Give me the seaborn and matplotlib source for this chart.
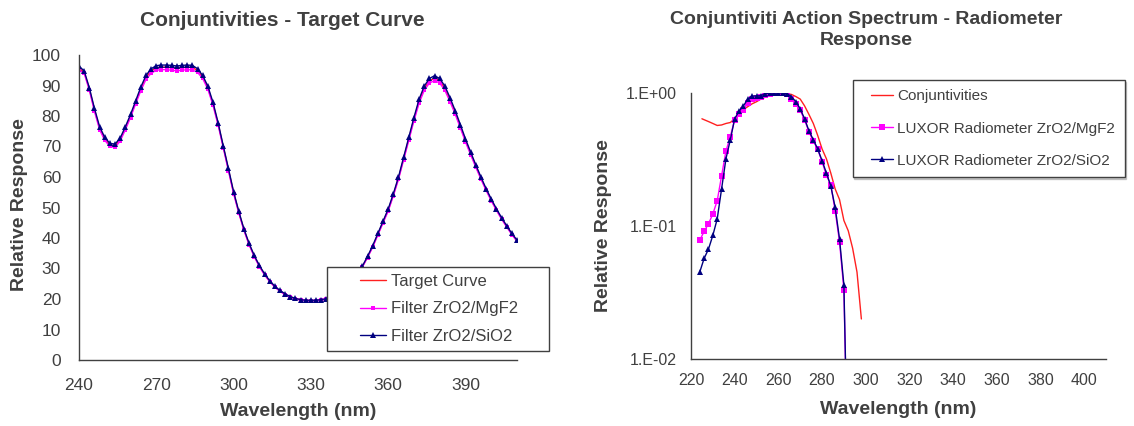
import numpy as np
import pandas as pd
import matplotlib
matplotlib.use("Agg")
import matplotlib.pyplot as plt
import seaborn as sns
from matplotlib.legend_handler import HandlerLine2D
from matplotlib.ticker import FixedLocator, FixedFormatter, NullFormatter

# ---------------- data : left chart ----------------
wl_left = list(range(240, 411, 2))
target_curve = [95.6, 94.4, 88.9, 82.0, 76.0, 72.5, 70.5, 70.2, 72.3, 76.0,
                80.0, 84.5, 88.9, 92.7, 94.8, 95.8, 96.0, 96.0, 95.8, 95.6,
                95.8, 96.0, 95.9, 94.9, 92.8, 89.3, 84.0, 77.4, 69.9, 62.4,
                54.9, 48.5, 42.8, 38.0, 34.1, 30.8, 28.1, 25.8, 24.0, 22.6,
                21.5, 20.7, 20.1, 19.7, 19.5, 19.5, 19.5, 19.7, 20.0, 20.6,
                21.5, 22.8, 24.3, 26.2, 28.3, 30.6, 33.8, 37.2, 41.2, 45.2,
                49.1, 54.1, 59.6, 66.0, 72.5, 79.0, 84.8, 89.1, 91.5, 92.4,
                91.5, 89.1, 85.3, 81.2, 76.6, 72.0, 67.7, 63.6, 59.6, 55.9,
                52.5, 49.3, 46.4, 43.8, 41.3, 39.1]
filter_mgf2 = [95.0, 94.0, 88.5, 81.5, 75.5, 72.0, 70.0, 69.7, 71.8, 75.5,
               79.5, 84.0, 88.3, 92.0, 94.0, 95.0, 95.2, 95.2, 95.0, 94.8,
               95.0, 95.2, 95.1, 94.3, 92.3, 88.8, 83.5, 77.0, 69.5, 62.0,
               54.5, 48.2, 42.5, 37.8, 33.9, 30.6, 27.9, 25.7, 23.9, 22.5,
               21.4, 20.6, 20.0, 19.6, 19.4, 19.4, 19.4, 19.6, 19.9, 20.5,
               21.4, 22.7, 24.2, 26.1, 28.2, 30.5, 33.6, 37.0, 41.0, 44.9,
               48.8, 53.8, 59.2, 65.6, 72.0, 78.4, 84.2, 88.4, 90.8, 91.6,
               90.8, 88.4, 84.7, 80.6, 76.1, 71.5, 67.3, 63.2, 59.3, 55.6,
               52.2, 49.1, 46.2, 43.6, 41.1, 38.9]
filter_sio2 = [96.3, 94.8, 89.3, 82.5, 76.5, 73.0, 71.0, 70.8, 72.8, 76.5,
               80.5, 85.0, 89.5, 93.3, 95.5, 96.5, 96.7, 96.7, 96.6, 96.4,
               96.6, 96.7, 96.6, 95.5, 93.3, 89.8, 84.5, 77.8, 70.2, 62.8,
               55.2, 48.8, 43.0, 38.3, 34.3, 31.0, 28.3, 26.0, 24.2, 22.8,
               21.7, 20.8, 20.2, 19.8, 19.6, 19.6, 19.6, 19.8, 20.1, 20.7,
               21.6, 22.9, 24.5, 26.4, 28.5, 30.8, 34.0, 37.5, 41.5, 45.5,
               49.5, 54.5, 60.0, 66.5, 73.0, 79.5, 85.5, 89.8, 92.3, 93.2,
               92.3, 89.8, 86.0, 81.8, 77.2, 72.5, 68.2, 64.0, 60.0, 56.2,
               52.8, 49.6, 46.7, 44.0, 41.5, 39.3]
left_xticks = [240, 270, 300, 330, 360, 390]
left_yticks = [0, 10, 20, 30, 40, 50, 60, 70, 80, 90, 100]
left_labels = ["Target Curve", "Filter ZrO2/MgF2", "Filter ZrO2/SiO2"]

# ---------------- data : right chart ----------------
wl_conj = [225, 228, 230, 232, 234, 236, 238, 240, 242, 244, 246, 248, 250,
           252, 254, 256, 258, 260, 262, 264, 266, 268, 270, 272, 274, 276,
           278, 280, 282, 284, 286, 288, 290, 292, 294, 296, 298]
conj = [0.64, 0.61, 0.59, 0.57, 0.575, 0.59, 0.60, 0.64, 0.70, 0.75, 0.79,
        0.83, 0.86, 0.90, 0.93, 0.965, 0.99, 1.0, 1.0, 0.99, 0.975, 0.94,
        0.90, 0.80, 0.69, 0.59, 0.48, 0.38, 0.32, 0.25, 0.19, 0.158, 0.11,
        0.092, 0.068, 0.045, 0.02]
wl_lux = list(range(224, 293, 2))
lux_mgf2 = [0.078, 0.091, 0.104, 0.123, 0.155, 0.238, 0.366, 0.47, 0.63,
            0.70, 0.745, 0.84, 0.90, 0.92, 0.94, 0.97, 0.99, 1.0, 1.0, 1.0,
            0.98, 0.90, 0.83, 0.74, 0.63, 0.51, 0.435, 0.377, 0.305, 0.24,
            0.205, 0.13, 0.076, 0.033, 0.001]
lux_sio2 = [0.045, 0.057, 0.067, 0.085, 0.113, 0.19, 0.32, 0.445, 0.64,
            0.73, 0.80, 0.90, 0.95, 0.95, 0.955, 0.99, 1.0, 1.0, 1.0, 1.0,
            0.99, 0.94, 0.86, 0.76, 0.64, 0.52, 0.445, 0.38, 0.31, 0.25,
            0.20, 0.138, 0.08, 0.036, 0.001]
right_xticks = [220, 240, 260, 280, 300, 320, 340, 360, 380, 400]
right_yticks = [0.01, 0.1, 1.0]
right_yticklabels = ["1.E-02", "1.E-01", "1.E+00"]
right_labels = ["Conjuntivities", "LUXOR Radiometer ZrO2/MgF2",
                "LUXOR Radiometer ZrO2/SiO2"]

# ---------------- style ----------------
sns.set_theme(style="white")
plt.rcParams["font.family"] = ["Liberation Sans", "DejaVu Sans"]
TXT = "#404040"
AX = "#404040"
RED = "#FF2020"
MAG = "#FF00FF"
NAVY = "#000080"

W, H = 1134, 426
fig = plt.figure(figsize=(W / 100, H / 100), dpi=100)


def fbox(x0, y0, x1, y1):
    """pixel box (top-left origin) -> figure fraction rect"""
    return [x0 / W, 1 - y1 / H, (x1 - x0) / W, (y1 - y0) / H]


ax1 = fig.add_axes(fbox(79, 55, 517, 360))
ax2 = fig.add_axes(fbox(691, 93, 1106, 359))

df_left = pd.DataFrame({"wl": wl_left, "target": target_curve,
                        "mgf2": filter_mgf2, "sio2": filter_sio2})
sns.lineplot(data=df_left, x="wl", y="target", ax=ax1, color=RED,
             linewidth=1.0, errorbar=None, legend=False)
sns.lineplot(data=df_left, x="wl", y="mgf2", ax=ax1, color=MAG,
             linewidth=1.0, marker="s", markersize=3.5, markeredgewidth=0,
             errorbar=None, legend=False)
sns.lineplot(data=df_left, x="wl", y="sio2", ax=ax1, color=NAVY,
             linewidth=1.0, marker="^", markersize=5, markeredgewidth=0,
             errorbar=None, legend=False)

df_conj = pd.DataFrame({"wl": wl_conj, "v": conj})
df_lux = pd.DataFrame({"wl": wl_lux, "mgf2": lux_mgf2, "sio2": lux_sio2})
sns.lineplot(data=df_conj, x="wl", y="v", ax=ax2, color=RED,
             linewidth=1.0, errorbar=None, legend=False)
sns.lineplot(data=df_lux, x="wl", y="mgf2", ax=ax2, color=MAG,
             linewidth=1.0, marker="s", markersize=4, markeredgewidth=0,
             errorbar=None, legend=False)
sns.lineplot(data=df_lux, x="wl", y="sio2", ax=ax2, color=NAVY,
             linewidth=1.0, marker="^", markersize=5, markeredgewidth=0,
             errorbar=None, legend=False)

# ---------------- axes formatting ----------------
for ax in (ax1, ax2):
    ax.set_xlabel("")
    ax.set_ylabel("")
    for s in ("top", "right"):
        ax.spines[s].set_visible(False)
    for s in ("left", "bottom"):
        ax.spines[s].set_color(AX)
        ax.spines[s].set_linewidth(1.0)
    ax.tick_params(which="major", direction="out", length=5, width=1,
                   color=AX, labelcolor=TXT)
    ax.tick_params(which="minor", direction="out", length=3, width=1,
                   color=AX)
    ax.grid(False)

ax1.set_xlim(240, 410)
ax1.set_ylim(0, 100)
ax1.xaxis.set_major_locator(FixedLocator(left_xticks))
ax1.xaxis.set_minor_locator(FixedLocator([255, 285, 315, 345, 375, 405]))
ax1.yaxis.set_major_locator(FixedLocator(left_yticks))
ax1.yaxis.set_minor_locator(FixedLocator([5, 15, 25, 35, 45, 55, 65, 75, 85, 95]))
ax1.tick_params(which="major", labelsize=12.5)
ax1.tick_params(axis="x", which="major", pad=8)
ax1.tick_params(axis="y", which="major", pad=8)

ax2.set_yscale("log")
ax2.set_xlim(220, 410)
ax2.set_ylim(0.01, 1.0)
ax2.xaxis.set_major_locator(FixedLocator(right_xticks))
ax2.xaxis.set_minor_locator(FixedLocator([230, 250, 270, 290, 310, 330, 350,
                                          370, 390, 410]))
ax2.yaxis.set_major_locator(FixedLocator(right_yticks))
ax2.yaxis.set_major_formatter(FixedFormatter(right_yticklabels))
ax2.yaxis.set_minor_locator(FixedLocator(
    [m * 10.0 ** e for e in (-2, -1) for m in range(2, 10)]))
ax2.yaxis.set_minor_formatter(NullFormatter())
ax2.tick_params(which="major", labelsize=11.5, pad=5)

# ---------------- titles & axis labels ----------------
fig.text(282 / W, 1 - 21 / H, "Conjuntivities - Target Curve",
         ha="center", va="center", fontsize=15, fontweight="bold", color=TXT)
fig.text(866 / W, 1 - 30 / H,
         "Conjuntiviti Action Spectrum - Radiometer\nResponse",
         ha="center", va="center", fontsize=14, fontweight="bold", color=TXT,
         linespacing=1.3)
fig.text(298 / W, 1 - 412 / H, "Wavelength (nm)", ha="center", va="center",
         fontsize=14, fontweight="bold", color=TXT)
fig.text(898 / W, 1 - 409 / H, "Wavelength (nm)", ha="center", va="center",
         fontsize=14, fontweight="bold", color=TXT)
fig.text(20 / W, 1 - 205 / H, "Relative Response", ha="center", va="center",
         rotation=90, fontsize=14, fontweight="bold", color=TXT)
fig.text(604 / W, 1 - 226 / H, "Relative Response", ha="center", va="center",
         rotation=90, fontsize=14, fontweight="bold", color=TXT)


# ---------------- legends ----------------
class OffsetLineHandler(HandlerLine2D):
    def __init__(self, frac, **kw):
        super().__init__(**kw)
        self.frac = frac

    def get_xdata(self, legend, xdescent, ydescent, width, height, fontsize):
        x0 = -xdescent + width * self.frac
        x1 = -xdescent + width
        return np.array([x0, x1]), np.array([(x0 + x1) / 2])


def make_legend(ax, labels, box, fs, frac, hlen, bpad, lspace, shadow=False):
    handles = ax.get_lines()[:3]
    x0, y0, x1, y1 = box
    leg = ax.legend(handles, labels, loc="upper left",
                    bbox_to_anchor=(x0 / W, 1 - y1 / H, (x1 - x0) / W,
                                    (y1 - y0) / H),
                    bbox_transform=fig.transFigure, mode="expand",
                    borderaxespad=0, fontsize=fs, frameon=True,
                    fancybox=False, framealpha=1, edgecolor=AX,
                    handlelength=hlen, handletextpad=0.3, borderpad=bpad,
                    labelspacing=lspace, numpoints=1, shadow=shadow,
                    handler_map={h: OffsetLineHandler(frac) for h in handles})
    leg.get_frame().set_linewidth(1.0)
    for t in leg.get_texts():
        t.set_color(TXT)
    return leg


make_legend(ax1, left_labels, (327, 267, 549, 349), 12, 0.5, 3.1, 0.42, 0.74)
make_legend(ax2, right_labels, (853, 80, 1125, 178), 11, 0.3, 2.0, 0.6, 1.2,
            shadow={"ox": 0.5, "oy": -1.5, "shade": 0.4})

fig.savefig("out.png", dpi=100)
